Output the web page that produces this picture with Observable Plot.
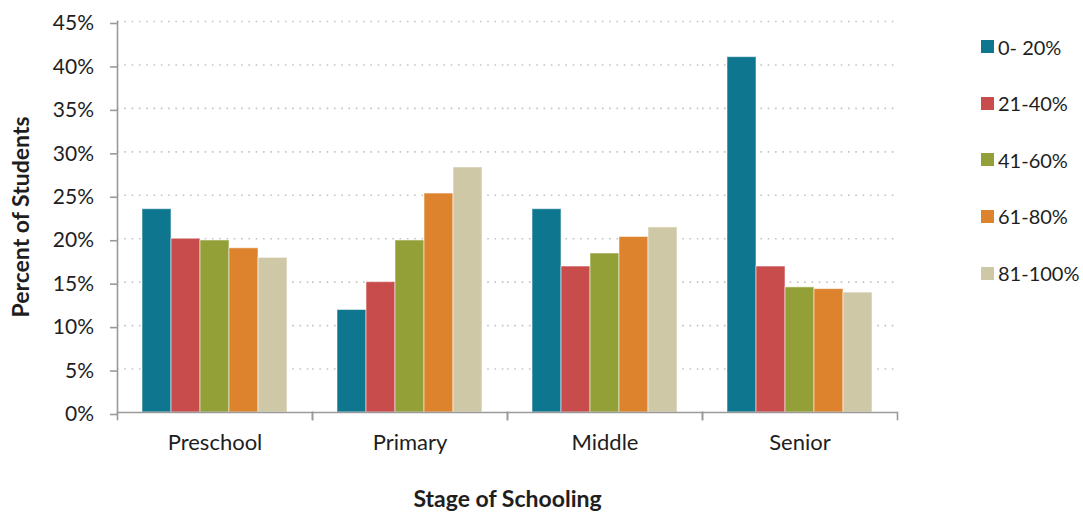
<!DOCTYPE html>
<html>
<head>
<meta charset="utf-8">
<script src="https://cdn.jsdelivr.net/npm/d3@7"></script>
<script src="https://cdn.jsdelivr.net/npm/@observablehq/plot@0.6"></script>
<style>
  body { margin: 0; background: #fff; }
  #chart { position: relative; width: 1083px; height: 512px; font-family: Lato, "Open Sans", sans-serif; }
  #chart svg { display: block; }
  #legend { position: absolute; left: 981px; top: 36.7px; }
  .item { display: flex; align-items: center; height: 20px; margin-bottom: 36.6px; font-size: 20px; color: #1e1e1e; white-space: pre; }
  .sw { width: 13px; height: 13px; margin-right: 4px; flex: none; }
</style>
</head>
<body>
<div id="chart"></div>
<script>
// Stages of schooling (x groups)
const stages = ["Preschool", "Primary", "Middle", "Senior"];
// Achievement bands (series)
const bands = ["0- 20%", "21-40%", "41-60%", "61-80%", "81-100%"];
const colors = ["#0f7690", "#c84c4b", "#93a038", "#dd832e", "#cfc8a7"];
// Percent of students per stage, one array per band
const band0to20   = [23.4, 11.8, 23.4, 40.9];
const band21to40  = [20.0, 15.0, 16.8, 16.8];
const band41to60  = [19.8, 19.8, 18.3, 14.4];
const band61to80  = [18.9, 25.2, 20.2, 14.2];
const band81to100 = [17.8, 28.2, 21.3, 13.8];
// Y-axis ticks (percent)
const yTicks = [0, 5, 10, 15, 20, 25, 30, 35, 40, 45];

const series = [band0to20, band21to40, band41to60, band61to80, band81to100];
const rows = [];
stages.forEach((stage, i) => {
  bands.forEach((band, j) => rows.push({stage, band, value: series[j][i]}));
});

const W = 1083, H = 512;
const mTop = 21, mBottom = 100, mLeft = 116, mRight = 186;
const innerH = H - mTop - mBottom;
const axisColor = "#9a9a9a";
const textColor = "#1e1e1e";

const chart = Plot.plot({
  width: W,
  height: H,
  marginTop: mTop,
  marginBottom: mBottom,
  marginLeft: mLeft,
  marginRight: mRight,
  style: {fontFamily: "Lato, 'Open Sans', sans-serif", color: textColor, background: "#fff", overflow: "visible"},
  fx: {domain: stages, padding: 0, axis: null},
  x: {domain: bands, paddingInner: 0, paddingOuter: 0.754, axis: null},
  y: {domain: [0, 45], axis: null},
  color: {domain: bands, range: colors},
  marks: [
    // dotted horizontal gridlines (repeated in each stage group)
    Plot.ruleY(yTicks.filter(d => d > 0), {stroke: "#c4c4c4", strokeWidth: 1.6, strokeDasharray: "1.6 5.7"}),
    // bars
    Plot.barY(rows, {fx: "stage", x: "band", y: "value", fill: "band", stroke: "#fff", strokeOpacity: 0.55, strokeWidth: 1}),
    // y axis line and x baseline
    Plot.frame({anchor: "left", facet: "super", stroke: axisColor, strokeWidth: 1.6}),
    Plot.ruleY([0], {stroke: axisColor, strokeWidth: 1.6}),
    // group boundary ticks below the baseline
    Plot.frame({anchor: "left", insetTop: innerH, insetBottom: -7, stroke: axisColor, strokeWidth: 1.6}),
    Plot.frame({anchor: "right", insetTop: innerH, insetBottom: -7, stroke: axisColor, strokeWidth: 1.6}),
    // y axis ticks and labels
    Plot.axisY(yTicks, {tickSize: 7, tickPadding: 16.5, tickFormat: d => d + "%", fontSize: 21, stroke: axisColor, strokeWidth: 1.6, dy: 2, label: null, color: textColor}),
    // y axis title
    Plot.axisY([], {tickSize: 0, label: "Percent of Students", labelAnchor: "center", labelArrow: "none", labelOffset: 105, fontSize: 23, fontWeight: "bold", color: textColor}),
    // stage labels and x axis title
    Plot.axisFx({anchor: "bottom", tickSize: 0, tickPadding: 22, fontSize: 22, label: null, color: textColor}),
    Plot.text(["Stage of Schooling"], {facet: "super", frameAnchor: "bottom", dy: 94, fontSize: 23, fontWeight: "bold", fill: textColor})
  ]
});

const root = document.getElementById("chart");
root.appendChild(chart);

// legend
const legend = document.createElement("div");
legend.id = "legend";
bands.forEach((b, i) => {
  const item = document.createElement("div");
  item.className = "item";
  const sw = document.createElement("span");
  sw.className = "sw";
  sw.style.background = colors[i];
  const label = document.createElement("span");
  label.textContent = b;
  item.appendChild(sw);
  item.appendChild(label);
  legend.appendChild(item);
});
root.appendChild(legend);
</script>
</body>
</html>
